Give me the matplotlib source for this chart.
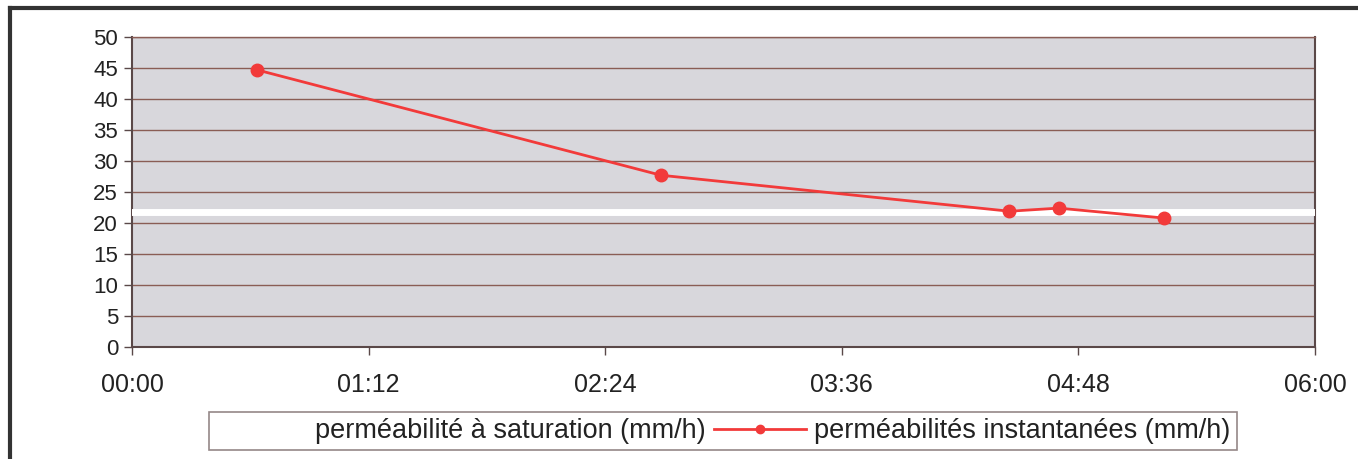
import matplotlib
matplotlib.use("Agg")
import matplotlib.pyplot as plt
from matplotlib.lines import Line2D

plt.rcParams['font.family'] = ['Liberation Sans', 'DejaVu Sans']

# Data
times = ["00:38", "02:41", "04:27", "04:42", "05:14"]
instant_values = [44.7, 27.7, 21.9, 22.4, 20.8]
saturation_value = 21.8
x_tick_labels = ["00:00", "01:12", "02:24", "03:36", "04:48", "06:00"]
y_ticks = [0, 5, 10, 15, 20, 25, 30, 35, 40, 45, 50]
series_names = ["perméabilité à saturation (mm/h)", "perméabilités instantanées (mm/h)"]

def to_min(s):
    h, m = s.split(":")
    return int(h) * 60 + int(m)

x_vals = [to_min(t) for t in times]
x_ticks = [to_min(t) for t in x_tick_labels]

fig = plt.figure(figsize=(13.58, 4.59), dpi=100)
fig.patch.set_facecolor("white")
ax = fig.add_axes([132/1358, 1-347/459, (1315-132)/1358, (347-37)/459])
ax.set_facecolor("#d8d7dc")

grid_c = "#8a5d55"
spine_c = "#5a4848"
for yv in y_ticks[1:]:
    ax.axhline(yv, color=grid_c, lw=1.0, zorder=1)

ax.axhline(saturation_value, color="white", lw=5, zorder=3)
ax.plot(x_vals, instant_values, color="#f23a3a", lw=2, marker="o", ms=9,
        markerfacecolor="#f23a3a", markeredgecolor="#f23a3a", zorder=4)

ax.set_xlim(x_ticks[0], x_ticks[-1])
ax.set_ylim(0, 50)
ax.set_yticks(y_ticks)
ax.set_yticklabels([str(v) for v in y_ticks], fontsize=16, color="#222222")
ax.set_xticks(x_ticks)
ax.set_xticklabels(x_tick_labels, fontsize=18, color="#222222")
ax.tick_params(axis="y", length=6, width=1, color=spine_c, pad=4)
ax.tick_params(axis="x", length=6, width=1, color=spine_c, pad=13)
for s in ["left", "bottom", "right"]:
    ax.spines[s].set_color(spine_c)
    ax.spines[s].set_linewidth(1.5)
ax.spines["top"].set_color(grid_c)
ax.spines["top"].set_linewidth(1.0)

handles = [Line2D([], [], color="white", lw=2),
           Line2D([], [], color="#f23a3a", lw=2, marker="o", ms=6)]
leg = fig.legend(handles, series_names, loc="center", bbox_to_anchor=(723/1358, 1-431/459),
                 ncol=2, fontsize=19.5, frameon=True, fancybox=False, handlelength=3.4,
                 columnspacing=0.3, handletextpad=0.3, borderpad=0.22)
leg.get_frame().set_edgecolor("#7a6a6a")
leg.get_frame().set_linewidth(1.2)
for t in leg.get_texts():
    t.set_color("#222222")

# Outer frame (left and top edges)
fig.add_artist(Line2D([10/1358, 10/1358], [0, 1-8/459], color="#333333", lw=3, transform=fig.transFigure))
fig.add_artist(Line2D([10/1358, 1], [1-8/459, 1-8/459], color="#333333", lw=3, transform=fig.transFigure))

fig.savefig("out.png", dpi=100, facecolor="white")
